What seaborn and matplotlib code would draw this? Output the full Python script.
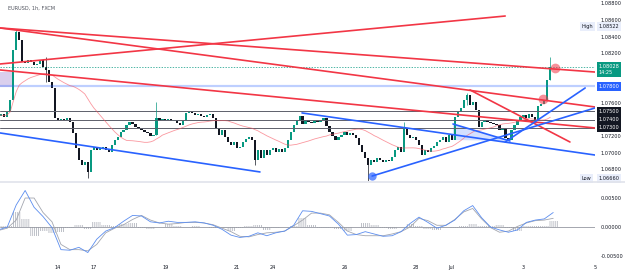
import numpy as np
import pandas as pd
import matplotlib
matplotlib.use("Agg")
import matplotlib.pyplot as plt
import seaborn as sns
from matplotlib.patches import Polygon

# ---- EURUSD closes, one value per 2 hours ----
closes = [
    1.07443, 1.07467, 1.07431, 1.0749, 1.07636, 1.0824, 1.0845, 1.0836, 1.0809, 1.0808,
    1.0812, 1.0809, 1.0806, 1.0807, 1.0812, 1.0803, 1.0800, 1.0785, 1.0778, 1.0742,
    1.0740, 1.0741, 1.0740, 1.0742, 1.0737, 1.0724, 1.0706, 1.0691, 1.0685, 1.0689,
    1.0677, 1.0703, 1.0707, 1.0703, 1.0706, 1.0707, 1.0703, 1.0701, 1.0709, 1.0715,
    1.0719, 1.0725, 1.0727, 1.0733, 1.0737, 1.0735, 1.0731, 1.0730, 1.0727, 1.0725,
    1.0724, 1.0720, 1.0722, 1.0742, 1.0740, 1.0741, 1.0740, 1.0741, 1.0738, 1.0740,
    1.0736, 1.0733, 1.0738, 1.0748, 1.0749, 1.0748, 1.0746, 1.0747, 1.0744, 1.0743,
    1.0746, 1.0747, 1.0742, 1.0730, 1.0721, 1.0727, 1.0719, 1.0713, 1.0709, 1.0713,
    1.0706, 1.0707, 1.0713, 1.0717, 1.0719, 1.0715, 1.0691, 1.0703, 1.0694, 1.0703,
    1.0697, 1.0703, 1.0706, 1.0701, 1.0705, 1.0701, 1.0706, 1.0715, 1.0725, 1.0733,
    1.0740, 1.0744, 1.0735, 1.0740, 1.0737, 1.0736, 1.0738, 1.0737, 1.0740, 1.0742,
    1.0732, 1.0725, 1.0720, 1.0715, 1.0719, 1.0721, 1.0725, 1.0722, 1.0724, 1.0721,
    1.0718, 1.0709, 1.0701, 1.0694, 1.0685, 1.0691, 1.0689, 1.0694, 1.0691, 1.0689,
    1.0691, 1.0690, 1.0695, 1.0703, 1.0707, 1.0701, 1.0730, 1.0721, 1.0718, 1.0719,
    1.0715, 1.0709, 1.0697, 1.0703, 1.0701, 1.0706, 1.0708, 1.0713, 1.0715, 1.0719,
    1.0713, 1.0721, 1.0715, 1.0743, 1.0749, 1.0754, 1.0764, 1.0770, 1.0758, 1.0761,
    1.0752, 1.0731, 1.0737, 1.0740, 1.0737, 1.0736, 1.0735, 1.0733, 1.0727, 1.0730,
    1.0718, 1.0715, 1.0727, 1.0733, 1.0740, 1.0743, 1.0745, 1.0742, 1.0747, 1.0743,
    1.0740, 1.0756, 1.0759, 1.0764, 1.0788, 1.08028,
]
# bars with visible wicks: bar index, low, high
wick_bars = [6, 16, 30, 53, 86, 124, 136, 157, 185]
wick_lows = [1.0836, 1.0785, 1.06696, 1.0722, 1.06853, 1.06660, 1.0707, 1.0758, 1.0788]
wick_highs = [1.08486, 1.08154, 1.0689, 1.07612, 1.0715, 1.0694, 1.07371, 1.07720, 1.08154]

# MACD pane, read every 3 bars
macd_bars = list(range(0, 187, 3))
macd_line = [
    -0.0005, 0.0000, 0.0038, 0.0063, 0.0034, 0.0018, -0.0001, -0.0039, -0.0040, -0.0035,
    -0.0044, -0.0021, -0.0007, -0.0001, 0.0010, 0.0020, 0.0019, 0.0009, 0.0007, 0.0010,
    0.0008, 0.0008, 0.0009, 0.0007, 0.0003, -0.0004, -0.0014, -0.0018, -0.0016, -0.0010,
    -0.0015, -0.0010, -0.0007, 0.0003, 0.0028, 0.0027, 0.0023, 0.0019, 0.0005, -0.0014,
    -0.0013, -0.0008, -0.0012, -0.0016, -0.0015, -0.0008, 0.0006, 0.0017, 0.0008, -0.0002,
    0.0003, 0.0012, 0.0028, 0.0037, 0.0016, 0.0000, -0.0005, -0.0009, -0.0005, 0.0008,
    0.0012, 0.0014, 0.0025,
]
signal_line = [
    -0.0006, -0.0002, 0.0012, 0.0050, 0.0050, 0.0025, 0.0009, -0.0030, -0.0039, -0.0039,
    -0.0041, -0.0030, -0.0010, -0.0002, 0.0004, 0.0013, 0.0020, 0.0012, 0.0007, 0.0005,
    0.0006, 0.0008, 0.0008, 0.0007, 0.0004, -0.0002, -0.0008, -0.0016, -0.0017, -0.0013,
    -0.0010, -0.0009, -0.0007, 0.0002, 0.0012, 0.0024, 0.0024, 0.0021, 0.0008, -0.0007,
    -0.0013, -0.0015, -0.0015, -0.0015, -0.0012, -0.0008, 0.0000, 0.0015, 0.0011, 0.0003,
    0.0003, 0.0013, 0.0026, 0.0032, 0.0014, -0.0001, -0.0009, -0.0007, 0.0001, 0.0007,
    0.0011, 0.0012, 0.0015,
]

day_ticks = [20, 32, 56, 80, 92, 116, 140, 152, 176, 200]
day_labels = ["14", "17", "19", "21", "24", "26", "28", "Jul", "3", "5"]
price_ticks = [1.068, 1.070, 1.072, 1.076, 1.082, 1.084, 1.086, 1.088]
macd_ticks = [-0.005, 0.0, 0.005]
grey_levels = [1.075, 1.074, 1.073]
blue_level = 1.078
last_price, last_time = 1.08028, "14:25"
high_price, low_price = 1.08522, 1.06660

# hand drawn trend lines: ((bar, price), (bar, price))
red_lines = [
    ((0.57, 1.08504), (200.0, 1.07973)),
    ((0.57, 1.08504), (200.0, 1.07552)),
    ((0.57, 1.08070), (169.9, 1.08648)),
    ((0.57, 1.07998), (200.0, 1.07299)),
    ((158.1, 1.07757), (191.6, 1.07130)),
]
blue_lines = [
    ((0.57, 1.07239), (87.7, 1.06769)),
    ((101.8, 1.07480), (200.0, 1.06973)),
    ((125.3, 1.06720), (200.0, 1.07540)),
    ((169.9, 1.07130), (196.7, 1.07781)),
    ((152.4, 1.07347), (171.5, 1.07142)),
]
blue_zone = [(152.4, 1.07347), (171.5, 1.07142), (152.4, 1.07154)]
red_marks = [(186.6, 1.08022), (182.6, 1.07648)]
blue_mark = (125.3, 1.06720)

# ---- derived series ----
s = pd.Series(closes)
opens = s.shift(1).fillna(s.iloc[0]).to_numpy()
c = s.to_numpy()
x = np.arange(len(c))
ma = s.rolling(25, min_periods=1).mean()
mb = np.array(macd_bars)
hist = np.array(macd_line) - np.array(signal_line)

sns.set_theme(style="white")
plt.rcParams['font.family'] = ['DejaVu Sans']
plt.rcParams['hatch.linewidth'] = 0.6

W, H = 625, 273
fig = plt.figure(figsize=(W / 100, H / 100), dpi=100)
ax = fig.add_axes([0, 1 - 181 / H, 595 / W, 181 / H])
ax2 = fig.add_axes([0, 11 / H, 595 / W, 79 / H])
fs = 3.6
TXT = '#131722'

# ─── price pane ───────────────────────────────────────────────
ax.axhspan(1.07793, 1.07973, xmin=0, xmax=4.0 / 200, color='#d1c4e9', alpha=0.8, lw=0)
ax.add_patch(Polygon(blue_zone, closed=True, color='#2962ff', alpha=0.2, lw=0))
ax.axhline(blue_level, color='#2962ff', alpha=0.3, lw=1.6)
for lv in grey_levels:
    ax.axhline(lv, color='#5d606b', lw=0.7)
ax.axhline(last_price, color='#089981', lw=0.5, ls=(0, (2, 2)))

sns.lineplot(x=x, y=ma.to_numpy(), ax=ax, color='#f7525f', lw=0.6, alpha=0.6)

body = c - opens
body = np.where(np.abs(body) < 1.5e-5, 1.5e-5, body)
up = c >= opens
wcol = ['#089981' if up[b] else '#131722' for b in wick_bars]
ax.vlines(wick_bars, wick_lows, wick_highs, colors=wcol, lw=0.5)
ax.bar(x[up], body[up], bottom=opens[up], width=0.75, color='#089981', lw=0)
ax.bar(x[~up], body[~up], bottom=opens[~up], width=0.75, color='#131722', lw=0)

for (x0, y0), (x1, y1) in red_lines:
    ax.plot([x0, x1], [y0, y1], color='#f23645', lw=1.2, solid_capstyle='round')
for (x0, y0), (x1, y1) in blue_lines:
    ax.plot([x0, x1], [y0, y1], color='#2962ff', lw=1.2, solid_capstyle='round')
for mx, my in red_marks:
    ax.plot(mx, my, 'o', ms=7, color='#f23645', alpha=0.55, mew=0)
ax.plot(*blue_mark, 'o', ms=6, color='#2962ff', alpha=0.7, mew=0)

ax.set_xlim(0.57, 200.0)
ax.set_ylim(1.06660, 1.08841)
ax.yaxis.tick_right()
ax.set_yticks(price_ticks)
ax.set_yticklabels([f'{t:.5f}' for t in price_ticks])
ax.tick_params(axis='y', length=0, pad=4, labelsize=fs, labelcolor=TXT)
ax.set_xticks([])
for sp in ax.spines.values():
    sp.set_visible(False)

ytr = ax.get_yaxis_transform()
def tag(y, txt, fc, tc='white', xpos=1.006, ls=1.0):
    ax.text(xpos, y, txt, transform=ytr, fontsize=fs, color=tc, va='center', ha='left',
            linespacing=ls, clip_on=False,
            bbox=dict(boxstyle='square,pad=0.35', fc=fc, ec='none'))

tag(blue_level, f'{blue_level:.5f}', '#2962ff')
for lv in grey_levels:
    tag(lv, f'{lv:.5f}', '#131722')
tag(1.08004, f'{last_price:.5f}\n{last_time}', '#089981', ls=1.2)
tag(high_price, f'{high_price:.5f}', '#e9eefb', tc=TXT)
tag(1.0669, f'{low_price:.5f}', '#e9eefb', tc=TXT)
tag(high_price, 'High', '#e9eefb', tc=TXT, xpos=0.977)
tag(1.0669, 'Low', '#e9eefb', tc=TXT, xpos=0.977)

ax.text(0.013, 0.955, 'EURUSD, 1h, FXCM', transform=ax.transAxes, fontsize=fs,
        color='#50535e', va='center', ha='left')

# ─── MACD pane ────────────────────────────────────────────────
ax2.axhline(0, color='#9598a1', lw=0.6)
ax2.bar(mb, hist, width=3.0, facecolor='none', edgecolor='#b2b5be', hatch='|' * 8, lw=0)
sns.lineplot(x=mb, y=signal_line, ax=ax2, color='#a3a6af', lw=0.6)
sns.lineplot(x=mb, y=macd_line, ax=ax2, color='#5b8def', lw=0.6)

ax2.set_xlim(0.57, 200.0)
ax2.set_ylim(-0.00603, 0.00759)
ax2.yaxis.tick_right()
ax2.set_yticks(macd_ticks)
ax2.set_yticklabels([f'{t:.5f}' for t in macd_ticks])
ax2.tick_params(axis='y', length=0, pad=4, labelsize=fs, labelcolor=TXT)
ax2.set_xticks(day_ticks)
ax2.set_xticklabels(day_labels)
ax2.tick_params(axis='x', length=0, pad=2, labelsize=fs, labelcolor=TXT)
for sp in ax2.spines.values():
    sp.set_visible(False)

fig.add_artist(plt.Line2D([0, 1], [1 - 182 / H, 1 - 182 / H], color='#e0e3eb', lw=1.2))

fig.savefig('out.png', dpi=100)
